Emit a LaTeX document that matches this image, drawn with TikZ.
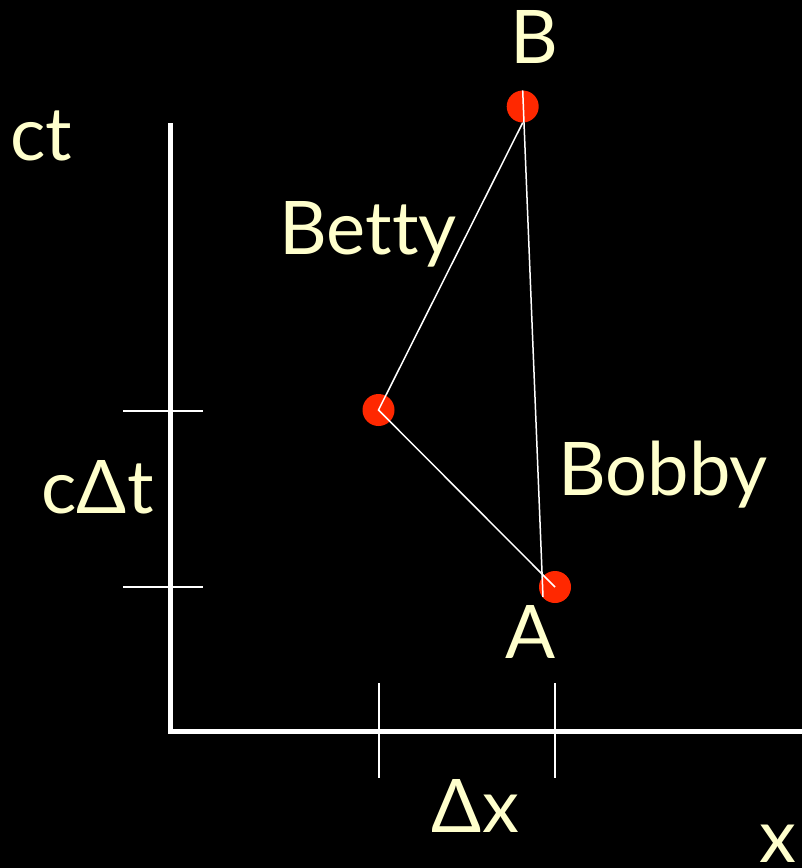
\documentclass[tikz,border=0pt]{standalone}
\usepackage{fontspec}
\setmainfont{Lato}[Ligatures=NoCommon]
\usepackage{tikz}
\usetikzlibrary{positioning}
\definecolor{evc}{RGB}{255,40,0}
\definecolor{lbc}{RGB}{255,255,204}
\tikzset{
  ev/.style={circle,fill=evc,minimum size=32pt,inner sep=0pt},
  lbl/.style={font=\fontsize{74}{74}\selectfont,text=lbc,inner sep=0pt,anchor=base},
  wl/.style={white,line width=1.5pt}
}

\begin{document}
\begin{tikzpicture}[x=1pt,y=-1pt]
  \fill[black] (0,0) rectangle (802,868);
  \useasboundingbox (0,0) rectangle (802,868);
  \draw[white,line width=5pt] (170.5,123)--(170.5,731)--(802,731);
  \foreach \y in {410.5,586.5} \draw[white,line width=2pt] (123,\y)--(203,\y);
  \foreach \x in {379,555} \draw[white,line width=2pt] (\x,683)--(\x,778);
  \node[ev] (B) at (522.7,106.5) {};
  \node[ev] (M) at (378.5,410) {};
  \node[ev] (A) at (555,587) {};
  \coordinate (Aend) at (543,597);
  \draw[wl] (B.north)--(Aend);
  \draw[wl] (B.south)--(M.center)--(A.center);
  \node[lbl] (lB) at (534,63) {B};
  \node[lbl] (lA) at (531,658) {A};
  \node[lbl] (ct) at (41.5,160) {ct};
  \node[lbl] (betty) at (368,254) {Betty};
  \node[lbl] (bobby) at (663,495) {Bobby};
  \node[lbl] (cdt) at (97.5,513) {cΔt};
  \node[lbl] (dx) at (475.5,832) {Δx};
  \node[lbl] (x) at (778,862) {x};
\end{tikzpicture}
\end{document}
